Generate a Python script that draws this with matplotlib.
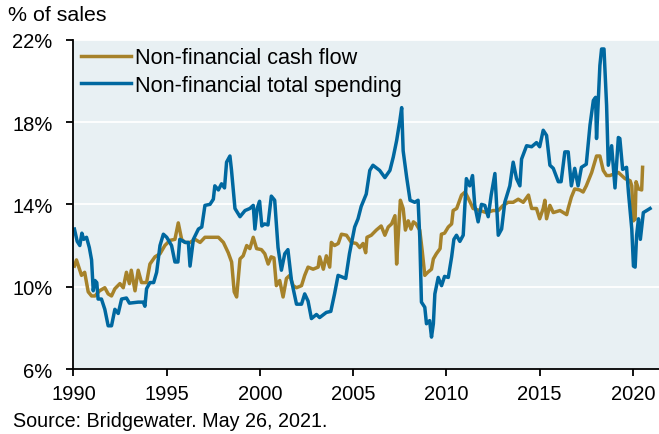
import matplotlib.pyplot as plt
import matplotlib as mpl

## Data ---------------------------------------------

cash_years = [
    1990.05, 1990.16, 1990.43, 1990.6, 1990.79, 1990.97, 1991.15, 1991.4, 1991.68, 1991.86,
    1992.04, 1992.22, 1992.49, 1992.67, 1992.84, 1993.0, 1993.1, 1993.3, 1993.47, 1993.65,
    1993.92, 1994.1, 1994.37, 1994.64, 1994.9, 1995.17, 1995.44, 1995.62, 1995.8, 1995.98,
    1996.25, 1996.52, 1996.79, 1997.05, 1997.41, 1997.77, 1998.04, 1998.3, 1998.48, 1998.62,
    1998.75, 1998.84, 1998.93, 1999.1, 1999.29, 1999.46, 1999.64, 1999.82, 2000.08, 2000.26,
    2000.44, 2000.6, 2000.75, 2000.88, 2001.06, 2001.24, 2001.42, 2001.6, 2001.78, 2001.96,
    2002.23, 2002.4, 2002.58, 2002.85, 2003.12, 2003.2, 2003.4, 2003.56, 2003.74, 2003.83,
    2004.0, 2004.2, 2004.37, 2004.64, 2004.9, 2005.17, 2005.35, 2005.53, 2005.67, 2005.74,
    2005.97, 2006.24, 2006.5, 2006.7, 2006.88, 2007.06, 2007.24, 2007.33, 2007.42, 2007.53,
    2007.68, 2007.8, 2007.95, 2008.1, 2008.23, 2008.37, 2008.57, 2008.7, 2008.84, 2009.0,
    2009.2, 2009.3, 2009.46, 2009.66, 2009.73, 2009.9, 2010.1, 2010.28, 2010.36, 2010.55,
    2010.81, 2011.0, 2011.17, 2011.43, 2011.79, 2012.15, 2012.5, 2012.78, 2013.04, 2013.31,
    2013.58, 2013.85, 2014.12, 2014.4, 2014.57, 2014.83, 2015.0, 2015.19, 2015.28, 2015.37,
    2015.55, 2015.73, 2016.09, 2016.45, 2016.53, 2016.7, 2016.88, 2017.15, 2017.33, 2017.5,
    2017.79, 2018.05, 2018.23, 2018.41, 2018.59, 2018.77, 2019.04, 2019.22, 2019.4, 2019.58,
    2019.85, 2019.94, 2020.03, 2020.12, 2020.17, 2020.3, 2020.47, 2020.52,
]
cash_flow = [
    11.0, 11.3, 10.55, 10.7, 9.75, 9.55, 9.55, 9.8, 9.95, 9.65,
    9.55, 9.9, 10.15, 9.95, 10.7, 10.15, 10.8, 9.8, 10.8, 10.2,
    10.2, 11.1, 11.45, 11.6, 12.0, 12.25, 12.3, 13.1, 12.3, 12.15,
    12.15, 12.3, 12.15, 12.4, 12.4, 12.4, 12.15, 11.65, 11.2, 9.75,
    9.5, 10.4, 11.35, 11.5, 12.0, 11.85, 12.4, 11.85, 11.8, 11.6,
    11.1, 11.45, 11.4, 10.05, 10.3, 9.5, 10.4, 10.55, 10.05, 9.95,
    10.05, 10.55, 10.95, 10.85, 10.95, 11.45, 10.85, 11.5, 10.95, 12.15,
    12.0, 12.1, 12.55, 12.5, 12.15, 12.1, 11.9, 12.1, 11.65, 12.4,
    12.5, 12.75, 12.95, 12.5, 12.9, 13.05, 13.45, 11.1, 12.55, 14.2,
    13.8, 12.75, 13.2, 12.8, 13.15, 13.05, 12.75, 11.75, 10.55, 10.7,
    10.85, 11.35, 11.6, 11.85, 12.55, 12.6, 12.9, 13.05, 13.7, 13.8,
    14.45, 14.6, 14.3, 13.8, 13.7, 13.6, 13.7, 13.7, 13.95, 14.1,
    14.1, 14.25, 14.1, 14.45, 13.8, 13.8, 13.3, 13.8, 14.2, 13.3,
    13.95, 13.6, 13.7, 13.5, 13.8, 14.35, 14.75, 14.7, 14.6, 14.9,
    15.55, 16.35, 16.35, 15.65, 15.4, 15.4, 15.5, 15.55, 15.4, 15.25,
    15.15, 14.9, 13.2, 13.3, 15.1, 14.75, 14.7, 15.8,
]

spend_years = [
    1990.05, 1990.2, 1990.34, 1990.45, 1990.55, 1990.7, 1990.85, 1990.97, 1991.06, 1991.15,
    1991.25, 1991.32, 1991.5, 1991.68, 1991.86, 1992.04, 1992.22, 1992.4, 1992.58, 1992.84,
    1993.0, 1993.47, 1993.74, 1993.83, 1993.92, 1994.1, 1994.3, 1994.46, 1994.64, 1994.82,
    1995.0, 1995.26, 1995.44, 1995.6, 1995.7, 1996.0, 1996.16, 1996.25, 1996.43, 1996.7,
    1996.88, 1997.05, 1997.32, 1997.5, 1997.58, 1997.77, 1997.94, 1998.1, 1998.21, 1998.39,
    1998.47, 1998.66, 1998.93, 1999.2, 1999.46, 1999.64, 1999.73, 1999.85, 1999.98, 2000.1,
    2000.25, 2000.43, 2000.61, 2000.79, 2000.97, 2001.15, 2001.33, 2001.5, 2001.69, 2001.96,
    2002.23, 2002.4, 2002.58, 2002.76, 2003.03, 2003.2, 2003.56, 2003.8, 2004.0, 2004.19,
    2004.46, 2004.6, 2004.8, 2005.08, 2005.26, 2005.43, 2005.7, 2005.89, 2006.06, 2006.42,
    2006.7, 2006.97, 2007.15, 2007.33, 2007.5, 2007.6, 2007.68, 2007.87, 2008.05, 2008.3,
    2008.48, 2008.57, 2008.66, 2008.84, 2008.93, 2009.1, 2009.2, 2009.3, 2009.38, 2009.56,
    2009.74, 2009.9, 2010.1, 2010.28, 2010.4, 2010.54, 2010.72, 2010.9, 2011.07, 2011.25,
    2011.4, 2011.52, 2011.7, 2011.88, 2012.06, 2012.24, 2012.4, 2012.6, 2012.78, 2012.96,
    2013.13, 2013.4, 2013.58, 2013.76, 2013.94, 2014.03, 2014.3, 2014.57, 2014.83, 2015.0,
    2015.19, 2015.37, 2015.55, 2015.73, 2016.0, 2016.15, 2016.35, 2016.53, 2016.7, 2016.88,
    2017.06, 2017.24, 2017.5, 2017.7, 2017.88, 2018.0, 2018.05, 2018.23, 2018.32, 2018.45,
    2018.59, 2018.68, 2018.86, 2019.04, 2019.22, 2019.3, 2019.45, 2019.66, 2019.76, 2019.94,
    2020.03, 2020.12, 2020.2, 2020.3, 2020.4, 2020.56, 2020.74, 2020.92,
]
total_spending = [
    12.8, 12.2, 12.0, 12.6, 12.3, 12.4, 11.9, 11.3, 9.8, 10.3,
    10.2, 9.4, 9.4, 8.9, 8.1, 8.1, 8.9, 8.7, 9.4, 9.45,
    9.2, 9.25, 9.25, 9.05, 9.9, 10.2, 10.2, 10.7, 12.0, 12.55,
    12.4, 12.0, 11.2, 11.2, 12.3, 12.15, 12.15, 11.0, 12.3, 12.8,
    12.9, 13.95, 14.0, 14.25, 14.9, 14.7, 15.0, 14.8, 16.05, 16.35,
    15.7, 13.8, 13.4, 13.7, 13.8, 13.95, 12.8, 13.8, 14.15, 12.95,
    13.05, 13.0, 14.4, 14.2, 11.9, 10.8, 11.6, 11.8, 10.3, 9.15,
    9.15, 9.65, 9.3, 8.45, 8.65, 8.5, 8.75, 8.8, 9.65, 10.55,
    10.45, 10.4, 11.6, 12.9, 13.3, 13.9, 14.5, 15.65, 15.9, 15.65,
    15.3, 15.65, 16.3, 17.1, 18.05, 18.7, 16.6, 15.3, 14.2, 14.1,
    14.2, 12.4, 9.25, 9.0, 8.2, 8.35, 7.55, 8.2, 9.65, 10.45,
    10.05, 10.5, 10.45, 11.45, 12.3, 12.5, 12.2, 12.5, 15.25, 14.9,
    15.4, 13.95, 13.15, 14.0, 13.95, 13.4, 14.45, 15.5, 12.5, 12.8,
    14.1, 14.9, 16.05, 15.25, 14.9, 16.2, 16.85, 16.8, 17.0, 16.8,
    17.6, 17.35, 15.9, 15.75, 15.1, 15.1, 16.55, 16.55, 14.9, 15.75,
    14.9, 15.8, 15.95, 17.85, 19.05, 19.2, 17.2, 20.75, 21.55, 21.55,
    18.8, 15.9, 16.85, 14.8, 17.25, 17.2, 15.7, 15.8, 14.6, 12.8,
    11.0, 10.95, 12.5, 13.3, 12.3, 13.6, 13.7, 13.8,
]

x_ticks = [1990, 1995, 2000, 2005, 2010, 2015, 2020]
y_ticks = [6, 10, 14, 18, 22]

## Plot settings ------------------------------------

mpl.rcParams["font.family"] = ["Liberation Sans", "DejaVu Sans"]
mpl.rcParams["font.size"] = 14.5

gold = "#A6822A"
blue = "#0068A0"

fig = plt.figure(figsize=(6.59, 4.35), dpi=100)
ax = fig.add_axes([0.1115, 0.1494, 0.8885, 0.757])
ax.set_facecolor("#E8F0F3")

ax.plot(cash_years, cash_flow, color=gold, lw=2.5, label="Non-financial cash flow")
ax.plot(spend_years, total_spending, color=blue, lw=2.5, label="Non-financial total spending")

ax.set_xlim(1990, 2021.4)
ax.set_ylim(6, 22)
ax.set_xticks(x_ticks)
ax.set_yticks(y_ticks)
ax.set_yticklabels([f"{v}%" for v in y_ticks])

ax.yaxis.grid(True, color="white", lw=1.3)
ax.set_axisbelow(True)

for side in ["top", "right"]:
    ax.spines[side].set_visible(False)
ax.spines["left"].set_linewidth(1.3)
ax.spines["bottom"].set_linewidth(1.3)
ax.tick_params(axis="y", direction="out", length=5, width=1.3, pad=10)
ax.tick_params(axis="x", direction="out", length=5, width=1.3, pad=6)

ax.legend(loc="upper left", frameon=False, handlelength=2.3, handletextpad=0.2,
          borderaxespad=0.15, labelspacing=0.3, borderpad=0.2, fontsize=15.6)

fig.text(0.012, 0.952, "% of sales", fontsize=15.4, ha="left", va="baseline")
fig.text(0.02, 0.018, "Source: Bridgewater. May 26, 2021.", fontsize=14.2, ha="left", va="baseline")

fig.savefig("out.png", dpi=100)
